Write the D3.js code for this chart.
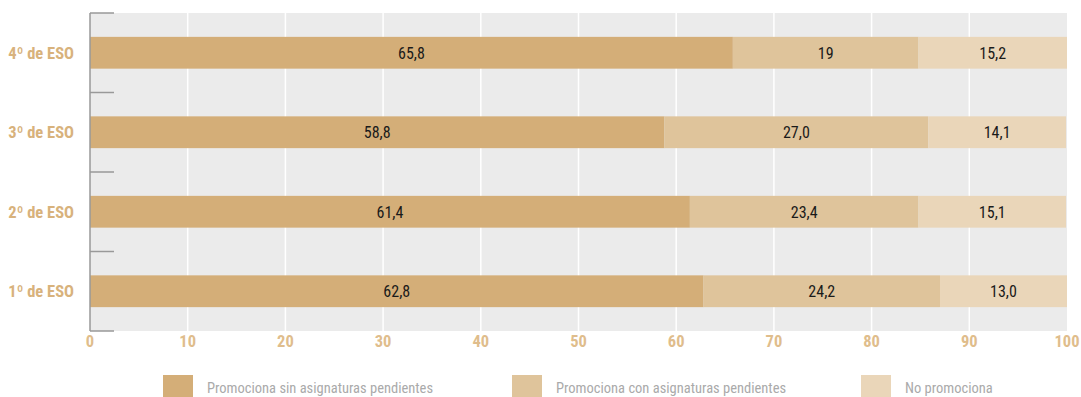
<!DOCTYPE html>
<html><head><meta charset="utf-8">
<script src="https://cdn.jsdelivr.net/npm/d3@7"></script>
<style>
body{margin:0;background:#fff;}
svg{display:block;}
</style></head>
<body>
<svg id="chart" width="1081" height="397"></svg>
<script>
const categories = ["4º de ESO","3º de ESO","2º de ESO","1º de ESO"];
const seriesNames = ["Promociona sin asignaturas pendientes","Promociona con asignaturas pendientes","No promociona"];
const sinPendientes = [65.8, 58.8, 61.4, 62.8];
const conPendientes = [19, 27.0, 23.4, 24.2];
const noPromociona = [15.2, 14.1, 15.1, 13.0];
const valueLabels = [["65,8","19","15,2"],["58,8","27,0","14,1"],["61,4","23,4","15,1"],["62,8","24,2","13,0"]];
const xTicks = [0,10,20,30,40,50,60,70,80,90,100];
const colors = ["#d4ae78","#dfc49b","#ead6b9"];

(function(){
const font = "'Liberation Sans Narrow','Roboto Condensed','Roboto',sans-serif";
const svg = d3.select("#chart");
const pL = 90, pR = 1067, pT = 13, pB = 331;
const x = d3.scaleLinear().domain([0,100]).range([pL,pR]);
const y = d3.scaleBand().domain(categories).range([pT,pB]).paddingInner(0.6).paddingOuter(0.3);
const yOuter = d3.scaleBand().domain(categories).range([pT,pB]);

svg.append("rect").attr("x",pL).attr("y",pT).attr("width",pR-pL).attr("height",pB-pT).attr("fill","#ebebeb");

svg.append("g").selectAll("line").data(xTicks.slice(1,-1)).join("line")
  .attr("x1",d=>x(d)).attr("x2",d=>x(d)).attr("y1",pT).attr("y2",pB)
  .attr("stroke","#fff").attr("stroke-width",1.5);

const rows = categories.map((c,i)=>{
  const vals=[sinPendientes[i],conPendientes[i],noPromociona[i]];
  let acc=0;
  return vals.map((v,j)=>{const s={cat:c,x0:acc,x1:acc+v,j,label:valueLabels[i][j]};acc+=v;return s;});
}).flat();

svg.append("g").selectAll("rect").data(rows).join("rect")
  .attr("x",d=>x(d.x0)).attr("width",d=>Math.min(x(d.x1),pR)-x(d.x0))
  .attr("y",d=>y(d.cat)).attr("height",y.bandwidth())
  .attr("fill",d=>colors[d.j]);

svg.append("g").selectAll("text").data(rows).join("text")
  .attr("x",d=>(x(d.x0)+Math.min(x(d.x1),pR))/2).attr("y",d=>y(d.cat)+y.bandwidth()/2)
  .attr("dy","0.36em").attr("text-anchor","middle")
  .attr("font-family",font).attr("font-size",16).attr("fill","#1a1a1a")
  .text(d=>d.label);

const ax = svg.append("g").attr("stroke","#999").attr("stroke-width",1.5);
ax.append("line").attr("x1",pL).attr("x2",pL).attr("y1",pT).attr("y2",pB);
const bounds = categories.map(c=>yOuter(c)).concat([pB]);
ax.selectAll("line.t").data(bounds).join("line").attr("class","t")
  .attr("x1",pL).attr("x2",pL+24).attr("y1",d=>d).attr("y2",d=>d);

svg.append("g").selectAll("text").data(categories).join("text")
  .attr("x",74).attr("y",d=>yOuter(d)+yOuter.bandwidth()/2).attr("dy","0.36em")
  .attr("text-anchor","end").attr("font-family",font).attr("font-weight","bold")
  .attr("font-size",16.5).attr("fill","#d8b27c").text(d=>d);

svg.append("g").selectAll("text").data(xTicks).join("text")
  .attr("x",d=>x(d)).attr("y",341).attr("dy","0.36em").attr("text-anchor","middle")
  .attr("font-family",font).attr("font-weight","bold").attr("font-size",16.5)
  .attr("fill","#dfbd8c").text(d=>d);

const legendX = [163,512,861];
const lg = svg.append("g").selectAll("g").data(seriesNames).join("g")
  .attr("transform",(d,i)=>`translate(${legendX[i]},375)`);
lg.append("rect").attr("width",30).attr("height",24).attr("fill",(d,i)=>colors[i]);
lg.append("text").attr("x",44).attr("y",13).attr("dy","0.36em")
  .attr("font-family",font).attr("font-size",14.5).attr("fill","#aaaaaa").text(d=>d);
})();
</script>
</body></html>
